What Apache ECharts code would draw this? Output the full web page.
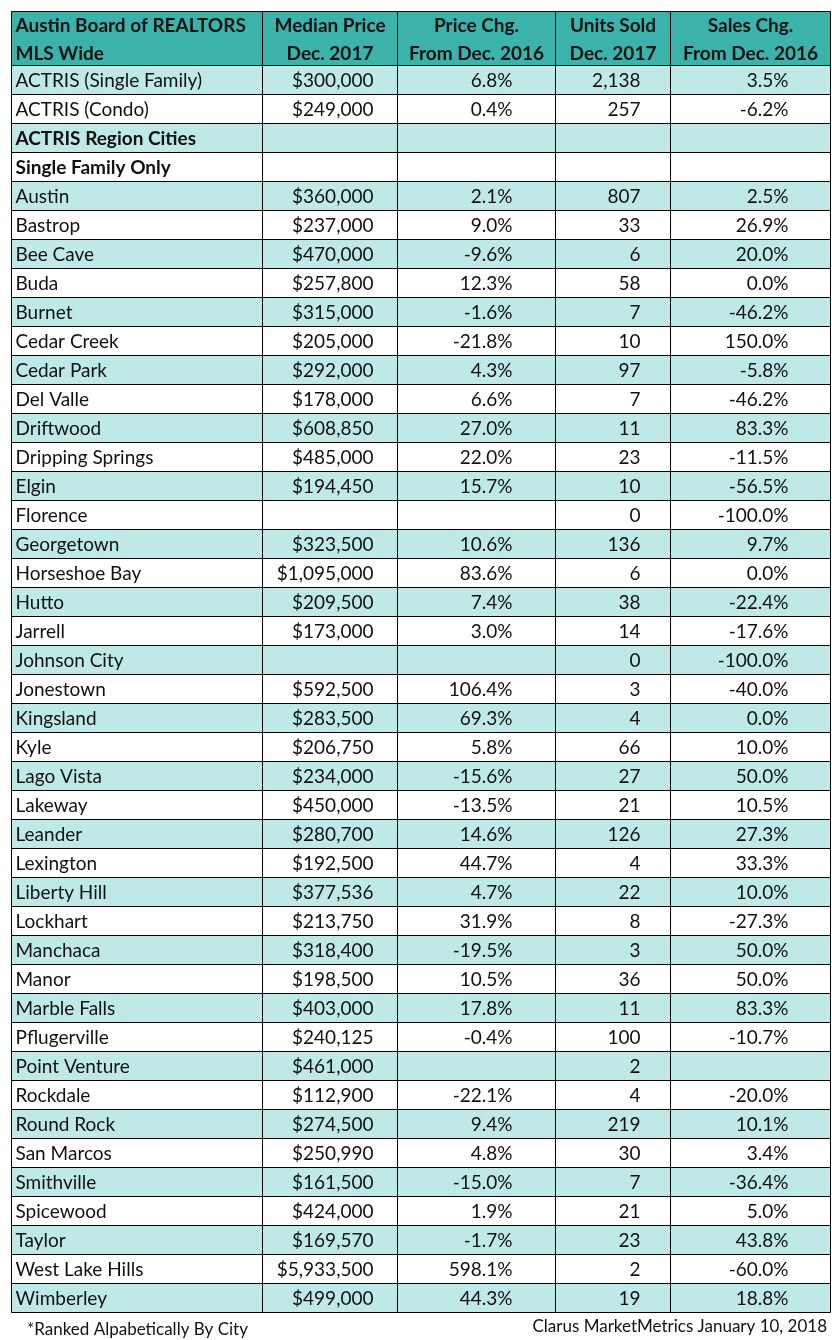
<!DOCTYPE html>
<html>
<head>
<meta charset="utf-8">
<script src="https://cdn.jsdelivr.net/npm/echarts@6/dist/echarts.min.js"></script>
<style>
    html, body { margin: 0; padding: 0; background: #fff; }
    #chart { width: 832px; height: 1340px; }
</style>
</head>
<body>
<div id="chart"></div>
<script>
    // table content
    const headers = [
        'Austin Board of REALTORS\nMLS Wide',
        'Median Price\nDec. 2017',
        'Price Chg.\nFrom Dec. 2016',
        'Units Sold\nDec. 2017',
        'Sales Chg.\nFrom Dec. 2016'
    ];
    const rowLabels = [
        'ACTRIS (Single Family)', 'ACTRIS (Condo)', 'ACTRIS Region Cities', 'Single Family Only',
        'Austin', 'Bastrop', 'Bee Cave', 'Buda', 'Burnet', 'Cedar Creek', 'Cedar Park', 'Del Valle',
        'Driftwood', 'Dripping Springs', 'Elgin', 'Florence', 'Georgetown', 'Horseshoe Bay', 'Hutto',
        'Jarrell', 'Johnson City', 'Jonestown', 'Kingsland', 'Kyle', 'Lago Vista', 'Lakeway', 'Leander',
        'Lexington', 'Liberty Hill', 'Lockhart', 'Manchaca', 'Manor', 'Marble Falls', 'Pflugerville',
        'Point Venture', 'Rockdale', 'Round Rock', 'San Marcos', 'Smithville', 'Spicewood', 'Taylor',
        'West Lake Hills', 'Wimberley'
    ];
    const medianPrice = [
        300000, 249000, null, null,
        360000, 237000, 470000, 257800, 315000, 205000, 292000, 178000,
        608850, 485000, 194450, null, 323500, 1095000, 209500,
        173000, null, 592500, 283500, 206750, 234000, 450000, 280700,
        192500, 377536, 213750, 318400, 198500, 403000, 240125,
        461000, 112900, 274500, 250990, 161500, 424000, 169570,
        5933500, 499000
    ];
    const priceChange = [
        6.8, 0.4, null, null,
        2.1, 9.0, -9.6, 12.3, -1.6, -21.8, 4.3, 6.6,
        27.0, 22.0, 15.7, null, 10.6, 83.6, 7.4,
        3.0, null, 106.4, 69.3, 5.8, -15.6, -13.5, 14.6,
        44.7, 4.7, 31.9, -19.5, 10.5, 17.8, -0.4,
        null, -22.1, 9.4, 4.8, -15.0, 1.9, -1.7,
        598.1, 44.3
    ];
    const unitsSold = [
        2138, 257, null, null,
        807, 33, 6, 58, 7, 10, 97, 7,
        11, 23, 10, 0, 136, 6, 38,
        14, 0, 3, 4, 66, 27, 21, 126,
        4, 22, 8, 3, 36, 11, 100,
        2, 4, 219, 30, 7, 21, 23,
        2, 19
    ];
    const salesChange = [
        3.5, -6.2, null, null,
        2.5, 26.9, 20.0, 0.0, -46.2, 150.0, -5.8, -46.2,
        83.3, -11.5, -56.5, -100.0, 9.7, 0.0, -22.4,
        -17.6, -100.0, -40.0, 0.0, 10.0, 50.0, 10.5, 27.3,
        33.3, 10.0, -27.3, 50.0, 50.0, 83.3, -10.7,
        null, -20.0, 10.1, 3.4, -36.4, 5.0, 43.8,
        -60.0, 18.8
    ];
    const boldRows = ['ACTRIS Region Cities', 'Single Family Only'];
    const footNote = '*Ranked Alpabetically By City';
    const credit = 'Clarus MarketMetrics January 10, 2018';

    // layout (column edges in px from table left, text insets from the right edge)
    const colEdges = [0, 251, 386, 544, 659, 819];
    const rightInset = [0, 24, 43, 30, 42];
    const headColor = '#3bb3aa';
    const bandColor = '#bfe9e6';
    const fontFamily = 'Lato, "Open Sans", sans-serif';

    const money = v => v == null ? '' : '$' + v.toLocaleString('en-US');
    const pct = v => v == null ? '' : v.toFixed(1) + '%';
    const count = v => v == null ? '' : v.toLocaleString('en-US');

    function cellText(c, r) {
        if (c === 0) return rowLabels[r];
        if (c === 1) return money(medianPrice[r]);
        if (c === 2) return pct(priceChange[r]);
        if (c === 3) return count(unitsSold[r]);
        return pct(salesChange[r]);
    }

    function cellBox(api) {
        const c = api.value(0);
        const p0 = api.coord([colEdges[c], api.value(1)]);
        const p1 = api.coord([colEdges[c + 1], api.value(1)]);
        const h = api.size([0, 1])[1];
        const x = Math.round(p0[0]) + 0.5;
        const y = Math.round(p0[1] - h / 2) + 0.5;
        return {c: c, x: x, y: y, w: Math.round(p1[0]) - Math.round(p0[0]), h: Math.round(p0[1] + h / 2) - Math.round(p0[1] - h / 2)};
    }

    const bodyData = [];
    rowLabels.forEach((name, r) => {
        for (let c = 0; c < 5; c++) bodyData.push([c, r]);
    });
    const headData = headers.map((h, c) => [c, 0]);

    const chart = echarts.init(document.getElementById('chart'), null, {renderer: 'canvas'});
    chart.setOption({
        backgroundColor: '#fff',
        animation: false,
        title: [
            {text: footNote, left: 22, top: 1316, textStyle: {fontFamily: fontFamily, fontSize: 17, fontWeight: 'normal', color: '#111'}},
            {text: credit, right: 0, top: 1313, textStyle: {fontFamily: fontFamily, fontSize: 17, fontWeight: 'normal', color: '#111'}}
        ],
        grid: [
            {left: 11, right: 2, top: 11, height: 54},
            {left: 11, right: 2, top: 65, height: 1247}
        ],
        xAxis: [
            {type: 'value', gridIndex: 0, min: 0, max: colEdges[5], show: false},
            {type: 'value', gridIndex: 1, min: 0, max: colEdges[5], show: false}
        ],
        yAxis: [
            {type: 'category', gridIndex: 0, data: ['head'], show: false},
            {type: 'category', gridIndex: 1, data: rowLabels, inverse: true, show: false}
        ],
        series: [
            {
                type: 'custom', xAxisIndex: 0, yAxisIndex: 0, data: headData,
                renderItem: function (params, api) {
                    const b = cellBox(api);
                    const left = b.c === 0;
                    return {
                        type: 'group',
                        children: [
                            {type: 'rect', shape: {x: b.x, y: b.y, width: b.w, height: b.h},
                                style: {fill: headColor, stroke: '#000', lineWidth: 1}},
                            {type: 'text', style: {
                                text: headers[b.c], x: left ? b.x + 4 : b.x + b.w / 2, y: b.y + b.h / 2 + 1,
                                align: left ? 'left' : 'center', verticalAlign: 'middle', lineHeight: 28,
                                fill: '#111', font: 'bold 19px ' + fontFamily
                            }}
                        ]
                    };
                }
            },
            {
                type: 'custom', xAxisIndex: 1, yAxisIndex: 1, data: bodyData,
                renderItem: function (params, api) {
                    const b = cellBox(api);
                    const r = api.value(1);
                    const bold = boldRows.indexOf(rowLabels[r]) >= 0;
                    return {
                        type: 'group',
                        children: [
                            {type: 'rect', shape: {x: b.x, y: b.y, width: b.w, height: b.h},
                                style: {fill: r % 2 === 0 ? bandColor : '#fff', stroke: '#000', lineWidth: 1}},
                            {type: 'text', style: {
                                text: cellText(b.c, r),
                                x: b.c === 0 ? b.x + 4 : b.x + b.w - rightInset[b.c], y: b.y + b.h / 2 + 1,
                                align: b.c === 0 ? 'left' : 'right', verticalAlign: 'middle',
                                fill: '#111', font: (bold ? 'bold ' : '') + '19px ' + fontFamily
                            }}
                        ]
                    };
                }
            }
        ]
    });
</script>
</body>
</html>
